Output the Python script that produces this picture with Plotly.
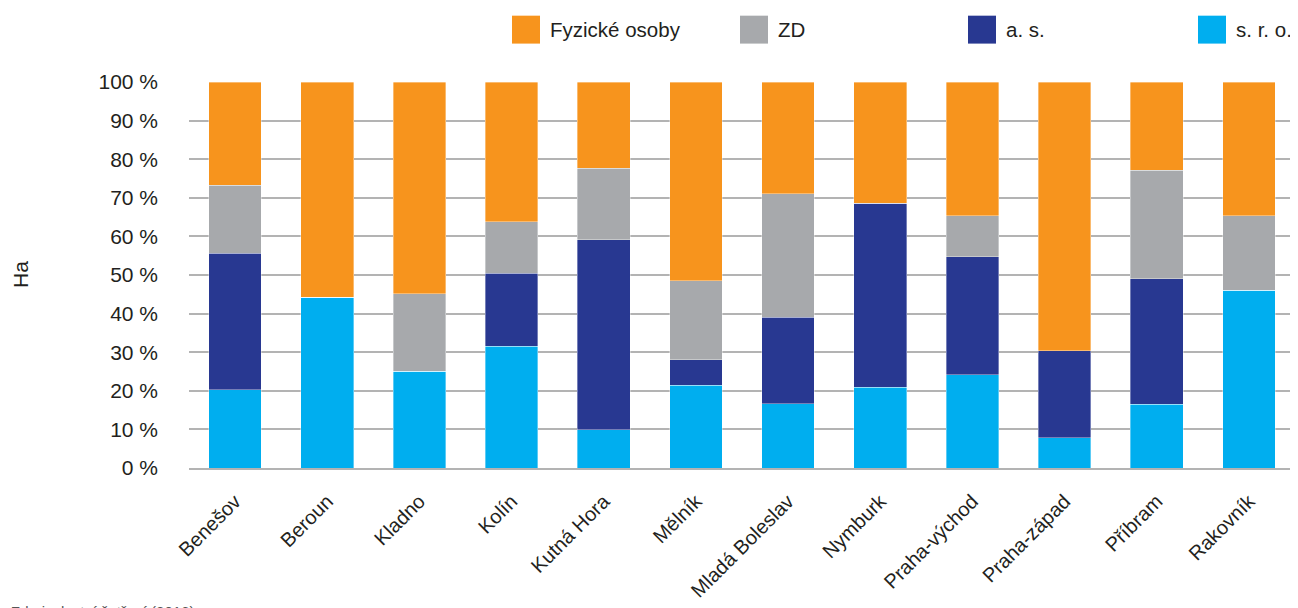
import plotly.graph_objects as go

districts = ["Benešov", "Beroun", "Kladno", "Kolín", "Kutná Hora", "Mělník",
             "Mladá Boleslav", "Nymburk", "Praha-východ", "Praha-západ", "Příbram", "Rakovník"]
sro = [20.3, 44.2, 25.1, 31.5, 9.9, 21.4, 16.6, 20.9, 24.2, 7.9, 16.5, 46.1]
a_s = [35.4, 0.0, 0.0, 18.9, 49.2, 6.6, 22.4, 47.7, 30.5, 22.5, 32.5, 0.0]
zd = [17.6, 0.0, 20.1, 13.4, 18.6, 20.5, 32.0, 0.0, 10.6, 0.0, 28.2, 19.2]
fo = [26.7, 55.8, 54.8, 36.2, 22.3, 51.5, 29.0, 31.4, 34.7, 69.6, 22.8, 34.7]

series = [("s. r. o.", sro, "#00AEEF"), ("a. s.", a_s, "#283891"),
          ("ZD", zd, "#A7A9AC"), ("Fyzické osoby", fo, "#F7941D")]
legend_order = ["Fyzické osoby", "ZD", "a. s.", "s. r. o."]
colors = {n: c for n, _, c in series}

FONT = "Liberation Sans, Arial, sans-serif"
OFF = 8  # page body margin
W, H = 1298 - OFF, 608 - OFF
# target pixel positions in the screenshot
PL, PR, PT, PB = 189, 1295, 81.5, 468.5
L = PL - OFF
T = PT - OFF
R = W - (PR - OFF)
B = H - (PB - OFF)
pw, ph = PR - PL, PB - PT

def px(x):
    return (x - PL) / pw

def py(y):
    return (PB - y) / ph

fig = go.Figure()
for name, vals, col in series:
    fig.add_trace(go.Bar(x=districts, y=vals, name=name, marker_color=col,
                         marker_line_width=0.6, marker_line_color="rgba(255,255,255,0.6)",
                         showlegend=False))

shapes = []
annotations = []
leg_x = [512, 740, 968, 1198]
for name, lx in zip(legend_order, leg_x):
    shapes.append(dict(type="rect", xref="paper", yref="paper",
                       x0=px(lx), x1=px(lx + 28), y0=py(43), y1=py(15),
                       fillcolor=colors[name], line_width=0))
    annotations.append(dict(text=name, xref="paper", yref="paper",
                            x=px(lx + 37), y=py(29), xanchor="left", yanchor="middle",
                            borderpad=0,
                            showarrow=False, font=dict(family=FONT, size=20.5, color="#231F20")))

annotations.append(dict(text="Ha", xref="paper", yref="paper", x=px(20), y=py(275),
                        textangle=-90, showarrow=False, xanchor="center", yanchor="middle",
                        font=dict(family=FONT, size=21, color="#231F20")))
annotations.append(dict(text="Zdroj: vlastní šetření (2016)", xref="paper", yref="paper",
                        x=px(9), y=py(602), xanchor="left", yanchor="top", showarrow=False,
                        font=dict(family=FONT, size=15, color="#555555")))

fig.update_layout(
    barmode="stack", bargap=0.43,
    width=W, height=H,
    margin=dict(l=L, r=R, t=T, b=B, pad=0),
    paper_bgcolor="white", plot_bgcolor="white",
    font=dict(family=FONT, color="#231F20"),
    shapes=shapes, annotations=annotations,
    showlegend=False,
)
fig.update_yaxes(range=[0, 100], dtick=10, ticksuffix=" %", showgrid=True,
                 gridcolor="#B3B3B3", gridwidth=1.5, zeroline=False, ticklabelstandoff=30,
                 tickfont=dict(family=FONT, size=21, color="#231F20"), ticks="", ticklen=0)
fig.update_xaxes(tickangle=-45, showline=True, linecolor="#B3B3B3", linewidth=1.5,
                 ticklabelstandoff=12,
                 tickfont=dict(family=FONT, size=20, color="#231F20"), ticks="")

fig.write_html("out.html")
